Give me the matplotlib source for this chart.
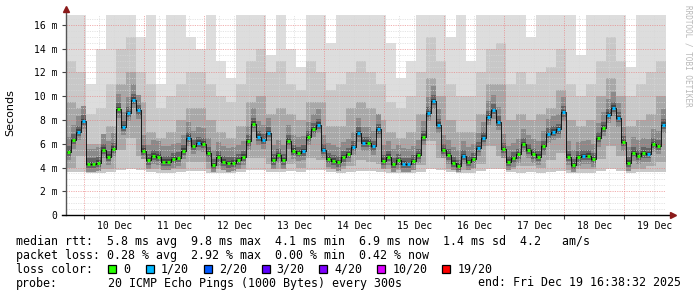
import numpy as np
import matplotlib.pyplot as plt
from matplotlib.patches import Rectangle

# ---------------------------------
# Data (time in days from 10 Dec 00:00)
# ---------------------------------

t_end = 9 + 16 / 24 + 38.53 / 1440      # Fri Dec 19 16:38:32
t_start = t_end - 10.0

med_step = 1 / 12                        # 2 h per median sample
median_ms = [
    5.3, 6.3, 7.0, 7.9, 4.3, 4.3, 4.4, 5.5, 4.9, 5.6,
    8.9, 7.4, 8.6, 9.7, 8.8, 5.4, 4.6, 5.0, 4.9, 4.5,
    4.5, 4.7, 4.8, 5.4, 6.5, 5.8, 6.1, 6.0, 5.2, 4.2,
    4.85, 4.5, 4.35, 4.4, 4.6, 4.9, 6.2, 7.7, 6.6, 6.3,
    6.9, 4.6, 5.05, 4.6, 6.26, 5.4, 5.25, 5.36, 6.57, 7.24,
    7.6, 5.47, 4.74, 4.57, 4.43, 4.85, 5.14, 5.73, 6.88, 6.1,
    6.1, 5.77, 7.2, 4.57, 4.91, 4.3, 4.6, 4.32, 4.3, 4.52,
    5.05, 6.6, 8.6, 9.6, 7.6, 5.47, 5.02, 4.4, 4.15, 4.97,
    4.45, 4.7, 5.64, 6.5, 8.28, 8.82, 7.83, 5.53, 4.49, 4.77,
    5.1, 5.98, 5.47, 5.1, 4.91, 5.77, 6.8, 7.0, 7.2, 8.64,
    4.91, 4.21, 4.85, 4.97, 5.0, 4.71, 6.46, 7.35, 8.45, 9.04,
    8.14, 6.12, 4.4, 5.25, 4.98, 5.19, 5.14, 5.98, 5.81, 7.6,
]
loss_of_20 = [
    0, 0, 1, 1, 0, 0, 0, 0, 0, 0,
    0, 1, 1, 1, 1, 0, 0, 0, 0, 0,
    0, 0, 0, 0, 1, 0, 1, 0, 0, 0,
    0, 0, 0, 0, 0, 0, 0, 0, 1, 1,
    1, 0, 0, 0, 0, 0, 0, 1, 0, 0,
    1, 1, 0, 0, 0, 0, 0, 1, 1, 1,
    0, 1, 1, 0, 0, 0, 0, 1, 1, 0,
    0, 0, 1, 1, 1, 0, 0, 0, 0, 1,
    0, 0, 1, 1, 1, 1, 1, 0, 0, 0,
    0, 0, 0, 0, 0, 0, 1, 1, 1, 1,
    0, 0, 0, 1, 0, 0, 0, 0, 1, 1,
    1, 0, 0, 0, 0, 0, 1, 0, 0, 1,
]

smoke_step = 1 / 6                       # 4 h per smoke sample
smoke_max = [
    16.8, 16.8, 11.0, 14.0, 16.8, 16.8, 16.8, 15.0, 16.8, 11.0, 16.8, 16.8, 15.0, 14.0, 16.8,
    13.0, 11.5, 16.8, 16.8, 16.8, 13.5, 16.8, 14.0, 12.5, 16.8, 16.8, 14.5, 16.8, 16.8, 16.8,
    16.8, 16.8, 14.5, 11.5, 13.0, 16.8, 16.8, 16.8, 15.0, 16.8, 13.0, 16.8, 16.8, 16.8, 16.8,
    16.8, 15.0, 16.8, 16.8, 16.8, 16.8, 13.5, 16.8, 16.8, 16.8, 16.8, 12.5, 16.8, 16.8, 16.8,
]
smoke_hi1 = [
    13, 12, 8.5, 9, 11, 14, 15, 12, 11, 9, 10, 11, 12, 12, 11,
    10, 9.5, 11, 13, 14, 12, 13, 11, 10.5, 13, 12, 10.5, 11, 12, 13,
    12, 11, 9.5, 9, 10, 12, 15, 13, 11, 10, 10, 12, 14, 14.5, 11,
    12, 11, 12, 12.5, 14, 11, 10, 11, 13, 15, 13, 10, 11, 12, 13,
]
smoke_hi2 = [
    9.5, 9, 6, 6, 7.5, 11, 12, 9.5, 7, 6.5, 7, 8, 9, 9, 8,
    7, 6.5, 7.5, 9.5, 10, 8.5, 9, 8.5, 8, 9.5, 9.5, 7.5, 7.5, 9, 9.5,
    9, 8, 7, 6.5, 7, 8.5, 11.5, 10, 8, 7, 7, 8.5, 11, 11, 8,
    8.5, 8, 8.5, 9, 10.5, 8, 7.5, 8, 10, 11.5, 10, 7.5, 8, 8.5, 10,
]
smoke_lo = [
    3.6, 3.6, 3.5, 3.5, 3.6, 3.8, 3.9, 3.8, 3.6, 3.5, 3.5, 3.6, 3.7, 3.7, 3.5,
    3.5, 3.5, 3.6, 3.8, 3.8, 3.6, 3.6, 3.7, 3.6, 3.8, 3.8, 3.6, 3.5, 3.6, 3.7,
    3.7, 3.6, 3.5, 3.5, 3.5, 3.6, 3.9, 3.8, 3.6, 3.5, 3.5, 3.7, 3.9, 3.9, 3.6,
    3.5, 3.6, 3.5, 3.6, 3.7, 3.5, 3.5, 3.5, 3.7, 3.9, 3.7, 3.5, 3.6, 3.6, 3.6,
]
smoke_lo2 = [
    4.0, 5.0, 3.8, 3.9, 3.9, 5.5, 6.5, 5.0, 3.9, 3.9, 3.9, 3.9, 4.5, 4.5, 3.9,
    3.9, 3.8, 3.9, 4.8, 4.8, 4.3, 3.9, 4.3, 4.0, 4.8, 4.6, 3.9, 3.9, 4.1, 4.6,
    4.5, 4.3, 3.9, 3.8, 3.8, 4.2, 6.2, 4.8, 3.9, 3.8, 3.9, 4.3, 5.8, 5.0, 3.9,
    4.1, 4.1, 4.0, 4.6, 5.2, 3.8, 3.9, 3.9, 4.7, 5.8, 5.0, 3.9, 3.9, 4.1, 4.5,
]

day_labels = ["10 Dec", "11 Dec", "12 Dec", "13 Dec", "14 Dec",
              "15 Dec", "16 Dec", "17 Dec", "18 Dec", "19 Dec"]
y_ticks = [0, 2, 4, 6, 8, 10, 12, 14, 16]
y_labels = ["0", "2 m", "4 m", "6 m", "8 m", "10 m", "12 m", "14 m", "16 m"]

loss_names = ["0", "1/20", "2/20", "3/20", "4/20", "10/20", "19/20"]
loss_colors = ["#26ff00", "#00b8ff", "#0059ff", "#5e00ff",
               "#7e00ff", "#dd00ff", "#ff0000"]

legend_rows = [
    "median rtt:  5.8 ms avg  9.8 ms max  4.1 ms min  6.9 ms now  1.4 ms sd  4.2   am/s",
    "packet loss: 0.28 % avg  2.92 % max  0.00 % min  0.42 % now",
]

# ---------------------------------
# Figure
# ---------------------------------

W, H = 697, 297
fig = plt.figure(figsize=(W / 100, H / 100), dpi=100)
fig.patch.set_facecolor("white")
ax = fig.add_axes([66 / W, 82 / H, 600 / W, 200 / H])

y_top = 200 / 11.875


def step_fill(t0, dt, lower, upper, color, z):
    lower = np.asarray(lower, float)
    upper = np.asarray(upper, float)
    edges = t0 + dt * np.arange(len(lower) + 1)
    ax.fill_between(edges, np.append(lower, lower[-1]),
                    np.append(upper, upper[-1]),
                    step="post", color=color, lw=0, zorder=z)


# ---------------------------------
# Smoke
# ---------------------------------

med = np.array(median_ms)
lo_rep = np.repeat(smoke_lo, 2)

step_fill(t_start, smoke_step, smoke_lo, np.minimum(smoke_max, y_top), "#dddddd", 1)
step_fill(t_start, smoke_step, smoke_lo, smoke_hi1, "#c8c8c8", 2)
step_fill(t_start, smoke_step, smoke_lo2, smoke_hi2, "#a8a8a8", 3)
step_fill(t_start, med_step, np.maximum(med - 0.7, lo_rep + 0.15), med + 1.3, "#8a8a8a", 4)
step_fill(t_start, med_step, med - 0.35, med + 0.5, "#646464", 5)
step_fill(t_start, med_step, med - 0.15, med + 0.2, "#444444", 6)

# ---------------------------------
# Grid (drawn above the smoke)
# ---------------------------------

dots = (0, (1.2, 1.2))
for d in np.arange(0, 10, 0.25):
    if abs(d - round(d)) < 1e-6:
        ax.axvline(d, color="#e87a7a", lw=0.7, ls=dots, alpha=0.6, zorder=7)
    else:
        ax.axvline(d, color="#d8d8d8", lw=0.7, ls=dots, alpha=0.7, zorder=7)
for v in np.arange(0.5, y_top, 0.5):
    if abs(v % 2) < 1e-6:
        ax.axhline(v, color="#e87a7a", lw=0.7, ls=dots, alpha=0.6, zorder=7)
    else:
        ax.axhline(v, color="#d8d8d8", lw=0.7, ls=dots, alpha=0.7, zorder=7)

# ---------------------------------
# Median line coloured by loss
# ---------------------------------

edges = t_start + med_step * np.arange(len(med) + 1)
ax.step(edges, np.append(med, med[-1]), where="post", color="black", lw=0.6, zorder=8)
seg_colors = [loss_colors[l] for l in loss_of_20]
ax.hlines(med, edges[:-1] + 0.12 * med_step, edges[1:] - 0.12 * med_step,
          colors=seg_colors, lw=2.2, zorder=9)

# ---------------------------------
# Axes
# ---------------------------------

ax.set_xlim(t_start, t_end)
ax.set_ylim(0, y_top)

ax.set_xticks(np.arange(0.5, 10, 1))
ax.set_xticklabels(day_labels, family="DejaVu Sans Mono", fontsize=7)
ax.set_xticks(np.arange(0, 10, 1), minor=True)
ax.tick_params(axis="x", which="major", length=0, pad=4)
ax.tick_params(axis="x", which="minor", length=3, width=0.8, color="#444444")

ax.set_yticks(y_ticks)
ax.set_yticklabels(y_labels, family="DejaVu Sans Mono", fontsize=7)
ax.tick_params(axis="y", length=3, width=0.8, pad=3, color="#444444")

for s in ["top", "right", "left", "bottom"]:
    ax.spines[s].set_visible(False)

ax.plot([0, 0], [0, 1.03], transform=ax.transAxes, color="#555555",
        lw=1, clip_on=False, zorder=10)
ax.plot([-0.006, 1.01], [0, 0], transform=ax.transAxes, color="black",
        lw=1, clip_on=False, zorder=10)
ax.plot([0], [1.03], marker="^", ms=4, color="#8b1a1a",
        transform=ax.transAxes, clip_on=False, zorder=11)
ax.plot([1.012], [0], marker=">", ms=4, color="#8b1a1a",
        transform=ax.transAxes, clip_on=False, zorder=11)

fig.text(10 / W, 1 - 113 / H, "Seconds", rotation=90, ha="center",
         va="center", fontsize=8, family="DejaVu Sans")
fig.text(688 / W, 1 - 5 / H, "RRDTOOL / TOBI OETIKER", rotation=270,
         ha="center", va="top", fontsize=5.5, color="#b8b8b8",
         family="DejaVu Sans Mono")

# ---------------------------------
# Legend block
# ---------------------------------

mono = dict(family="DejaVu Sans Mono", fontsize=8.4, va="center", ha="left")
fig.text(16 / W, 1 - 241.5 / H, legend_rows[0], **mono)
fig.text(16 / W, 1 - 255.5 / H, legend_rows[1], **mono)
fig.text(16 / W, 1 - 269.3 / H, "loss color:", **mono)
box_x = [108.3, 145.7, 204.3, 261.7, 319.3, 377.3, 442.3]
for bx, name, col in zip(box_x, loss_names, loss_colors):
    fig.patches.append(Rectangle((bx / W, 1 - 273.3 / H), 8 / W, 8 / H,
                                 transform=fig.transFigure, facecolor=col,
                                 edgecolor="black", lw=0.9))
    fig.text((bx + 15) / W, 1 - 269.3 / H, name, **mono)
fig.text(16 / W, 1 - 283 / H, "probe:", **mono)
fig.text(107.7 / W, 1 - 283 / H,
         "20 ICMP Echo Pings (1000 Bytes) every 300s", **mono)
fig.text(478.3 / W, 1 - 283 / H, "end: Fri Dec 19 16:38:32 2025", **mono)

fig.savefig("out.png", dpi=100, facecolor="white")
